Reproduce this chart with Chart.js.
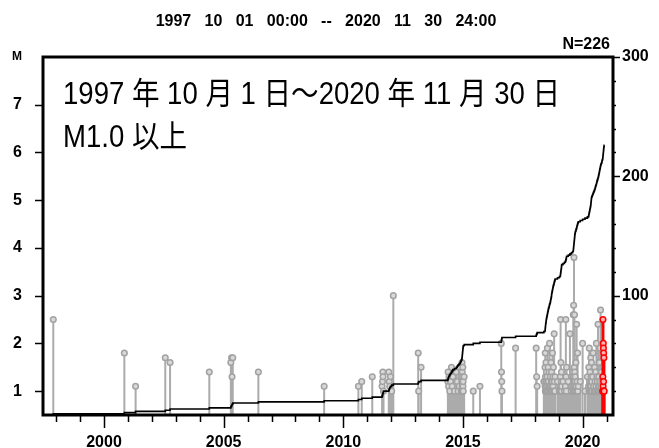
<!DOCTYPE html>
<html><head><meta charset="utf-8">
<script src="https://cdn.jsdelivr.net/npm/chart.js@4/dist/chart.umd.min.js"></script>
<style>html,body{margin:0;padding:0;background:#fff;overflow:hidden}#wrap{width:659px;height:448px;position:relative}</style>
</head><body><div id="wrap"><canvas id="c" width="659" height="448"></canvas></div>
<script>
// ---- texts ----
const titleText = '1997   10   01   00:00   --   2020   11   30   24:00';
const countLabel = 'N=226';
const magAxisLabel = 'M';
const noteLines = ['1997 年 10 月 1 日～2020 年 11 月 30 日', 'M1.0 以上'];
// ---- axes ----
const xRange = [1997.45, 2021.27];
const xTickYears = [1998,1999,2000,2001,2002,2003,2004,2005,2006,2007,2008,2009,2010,2011,2012,2013,2014,2015,2016,2017,2018,2019,2020,2021];
const xLabelYears = [2000,2005,2010,2015,2020];
const magRange = [0.5, 8];
const magTicks = [1,2,3,4,5,6,7];
const countRange = [0, 300];
const countTicks = [20,40,60,80,100,120,140,160,180,200,220,240,260,280,300];
const countLabels = [100,200,300];
const redStart = 2020.833; // events of the last month drawn in red
// ---- events (decimal year, magnitude) ----
const eventTimes = [
 1997.88,2000.85,2001.32,2002.56,2002.76,2004.40,2005.30,2005.33,2005.35,2005.38,2006.45,2009.20,2010.63,2010.77,2011.21,
 2011.62,2011.64,2011.65,2011.66,2011.68,2011.90,2011.92,2011.94,2011.97,2012.02,2012.09,
 2013.13,2013.15,2013.25,
 2014.37,2014.38,2014.40,2014.42,2014.45,2014.48,2014.52,2014.55,2014.58,2014.65,2014.72,2014.76,2014.80,2014.84,2014.88,
 2014.91,2014.93,2014.95,2014.96,2014.965,2014.97,2014.975,2014.98,2014.985,2014.99,2014.995,2015.00,2015.005,2015.01,2015.05,
 2015.43,2015.71,2016.60,2016.61,2016.62,2016.63,2017.20,2018.06,2018.08,2018.10,
 2018.38,
 2018.43,2018.435,2018.44,2018.445,2018.45,2018.455,2018.46,2018.47,2018.475,2018.48,2018.49,2018.50,
 2018.51,2018.52,2018.53,2018.54,2018.55,2018.56,2018.57,2018.58,2018.60,2018.61,2018.62,2018.64,
 2018.65,2018.66,2018.67,2018.68,2018.69,2018.70,2018.705,2018.71,
 2018.72,2018.73,2018.74,2018.75,2018.76,2018.77,2018.78,2018.80,2018.81,2018.82,2018.84,2018.85,
 2018.95,2019.03,
 2019.07,2019.075,2019.08,2019.09,2019.095,2019.10,2019.11,2019.115,2019.12,2019.125,
 2019.18,2019.24,
 2019.28,2019.30,2019.31,2019.32,2019.33,
 2019.40,2019.47,2019.53,2019.58,
 2019.61,2019.615,2019.62,2019.625,2019.63,2019.635,2019.64,2019.645,2019.65,2019.655,2019.66,2019.665,2019.67,2019.675,2019.68,
 2019.69,2019.70,2019.72,2019.73,2019.75,2019.76,2019.77,2019.79,2019.80,2019.82,
 2019.90,2020.00,2020.10,2020.20,
 2020.25,2020.26,2020.27,2020.28,2020.29,2020.30,2020.31,2020.32,2020.33,2020.34,2020.345,2020.35,2020.355,2020.36,2020.365,2020.37,2020.38,
 2020.40,2020.42,2020.44,2020.46,2020.48,2020.50,2020.52,
 2020.53,2020.545,2020.56,2020.575,2020.59,2020.60,2020.615,2020.63,2020.645,2020.66,
 2020.67,2020.68,2020.69,2020.70,2020.71,2020.72,2020.73,2020.74,2020.75,2020.76,2020.78,2020.80,
 2020.81,2020.82,
 2020.84,2020.845,2020.85,2020.855,2020.86,2020.865,2020.87,2020.875,2020.88,2020.885,2020.89,2020.90
];
const eventMags = [
 2.5,1.8,1.1,1.7,1.6,1.4,1.6,1.7,1.3,1.7,1.4,1.1,1.1,1.2,1.3,
 1.1,1.2,1.4,1.3,1.0,1.4,1.2,1.1,1.3,1.0,3.0,
 1.8,1.0,1.5,
 1.2,1.4,1.1,1.3,1.0,1.2,1.5,1.1,1.3,1.0,1.4,1.2,1.0,1.1,1.5,
 1.3,1.0,1.2,1.6,1.1,1.4,1.0,1.2,1.3,1.0,1.5,1.1,1.2,1.0,1.3,
 1.0,1.1,2.0,1.4,1.2,1.0,1.9,1.9,1.3,1.1,
 1.2,
 1.5,1.1,1.8,1.0,1.3,1.2,1.0,1.6,1.1,1.0,1.4,1.2,
 1.0,1.3,1.9,1.1,1.0,1.5,1.2,1.0,1.4,1.1,2.0,1.0,
 1.3,1.1,1.0,1.6,1.2,1.0,1.4,1.1,
 1.0,1.2,1.8,1.0,1.3,1.1,1.5,1.0,2.2,1.2,1.0,1.3,
 1.2,1.0,
 1.3,1.0,2.5,1.1,1.6,1.0,1.2,1.4,1.0,1.1,
 1.2,1.0,
 1.1,2.5,1.3,1.0,1.5,
 1.2,2.2,1.0,1.4,
 2.6,1.0,1.3,2.8,1.1,1.0,3.8,1.2,1.5,1.0,2.6,1.1,1.4,1.0,1.2,
 1.3,1.0,1.6,1.1,2.4,1.0,1.2,1.8,1.0,1.1,
 1.2,2.0,1.0,1.3,
 1.1,1.5,1.0,1.9,1.2,1.0,1.4,1.1,1.0,1.7,1.2,1.0,1.3,1.1,1.0,1.6,1.2,
 1.0,1.3,1.8,1.1,1.0,1.5,1.2,
 1.0,1.4,1.1,2.0,1.0,1.3,1.2,1.0,2.4,1.1,
 1.0,1.3,1.1,1.6,1.0,1.2,1.9,1.0,2.7,1.1,1.4,1.0,
 1.2,1.0,
 1.0,1.3,2.5,1.1,1.0,2.0,1.9,1.2,1.8,1.0,1.7,1.0
];
const cumStart = 1997.75, cumEnd = 2020.917;

// ---- build datasets through the library ----
const stemGray = [], stemRed = [], dotGray = [], dotRed = [], cum = [{x: cumStart, y: 0}];
eventTimes.forEach((t, i) => {
  const m = eventMags[i];
  const red = t >= redStart;
  const stems = red ? stemRed : stemGray;
  stems.push({x: t, y: magRange[0]}, {x: t, y: m}, {x: t, y: null});
  (red ? dotRed : dotGray).push({x: t, y: m});
  cum.push({x: t, y: i + 1});
});
cum.push({x: cumEnd, y: eventTimes.length});

const FONT = '"Liberation Sans", "DejaVu Sans", Arial, sans-serif';
const CJK = '"Liberation Sans", "Noto Sans CJK JP", sans-serif';
const tickFont = {family: FONT, size: 16, weight: 'bold'};

const framePlugin = {
  id: 'frame',
  afterDraw(chart) {
    const ctx = chart.ctx, a = chart.chartArea;
    const xs = chart.scales.x, ys = chart.scales.y, yr = chart.scales.yR;
    ctx.save();
    ctx.strokeStyle = '#000';
    ctx.lineWidth = 1.5;
    ctx.beginPath();
    magTicks.forEach(v => { const y = Math.round(ys.getPixelForValue(v)) + 0.5; ctx.moveTo(a.left - 8, y); ctx.lineTo(a.left, y); });
    xTickYears.forEach(v => { const x = Math.round(xs.getPixelForValue(v)) + 0.5; ctx.moveTo(x, a.bottom); ctx.lineTo(x, a.bottom + (v % 5 === 0 ? 13 : 7)); });
    countTicks.forEach(v => { const y = Math.round(yr.getPixelForValue(v)) + 0.5; ctx.moveTo(a.right, y); ctx.lineTo(a.right + (v % 100 === 0 ? 7 : 3), y); });
    ctx.stroke();
    ctx.lineWidth = 3;
    ctx.strokeRect(a.left, a.top, a.right - a.left, a.bottom - a.top);
    ctx.fillStyle = '#000';
    ctx.textBaseline = 'middle';
    ctx.font = 'bold 16px ' + FONT;
    ctx.textAlign = 'center';
    ctx.fillText(titleText, 326, 22);
    ctx.textAlign = 'right';
    ctx.fillText(countLabel, a.right - 3, 45);
    ctx.font = 'bold 12px ' + FONT;
    ctx.textAlign = 'center';
    ctx.fillText(magAxisLabel, 17, 57);
    // note: fitted to the width it has in the reference
    ctx.font = '31px ' + CJK;
    ctx.textAlign = 'left';
    ctx.textBaseline = 'alphabetic';
    const w = ctx.measureText(noteLines[0]).width;
    const sx = 497 / w;
    ctx.translate(63, 0);
    ctx.scale(sx, 1);
    ctx.fillText(noteLines[0], 0, 104);
    ctx.fillText(noteLines[1], 0, 147);
    ctx.restore();
  }
};

new Chart(document.getElementById('c'), {
  type: 'line',
  data: {
    datasets: [
      {label: 'cum', data: cum, yAxisID: 'yR', stepped: true, borderColor: '#000', borderWidth: 1.6, pointRadius: 0, fill: false, order: 0},
      {label: 'redDots', data: dotRed, yAxisID: 'y', showLine: false, pointRadius: 2.8, pointBorderWidth: 1.5, pointBorderColor: '#ff0000', pointBackgroundColor: '#ffb0b0', order: 1},
      {label: 'redStems', data: stemRed, yAxisID: 'y', borderColor: '#ff0000', borderWidth: 3, pointRadius: 0, spanGaps: false, order: 2},
      {label: 'grayDots', data: dotGray, yAxisID: 'y', showLine: false, pointRadius: 2.8, pointBorderWidth: 1.5, pointBorderColor: '#a2a2a2', pointBackgroundColor: '#d8d8d8', order: 3},
      {label: 'grayStems', data: stemGray, yAxisID: 'y', borderColor: '#ababab', borderWidth: 2, pointRadius: 0, spanGaps: false, order: 4}
    ]
  },
  options: {
    responsive: false, animation: false, devicePixelRatio: 1,
    layout: {padding: {top: 57, left: 0, right: 0, bottom: 0}},
    plugins: {legend: {display: false}, tooltip: {enabled: false}, title: {display: false}},
    scales: {
      x: {type: 'linear', min: xRange[0], max: xRange[1],
          grid: {display: false, drawTicks: false}, border: {display: false},
          afterBuildTicks: s => { s.ticks = xTickYears.map(v => ({value: v})); },
          afterFit: s => { s.height = 33; },
          ticks: {autoSkip: false, maxRotation: 0, padding: 18, font: tickFont, color: '#000',
                  callback: v => xLabelYears.includes(v) ? String(v) : ''}},
      y: {type: 'linear', position: 'left', min: magRange[0], max: magRange[1],
          grid: {display: false, drawTicks: false}, border: {display: false},
          afterBuildTicks: s => { s.ticks = magTicks.map(v => ({value: v})); },
          afterFit: s => { s.width = 43; },
          ticks: {autoSkip: false, padding: 21, font: tickFont, color: '#000', callback: v => String(v)}},
      yR: {type: 'linear', position: 'right', min: countRange[0], max: countRange[1],
          grid: {display: false, drawTicks: false}, border: {display: false},
          afterBuildTicks: s => { s.ticks = countTicks.map(v => ({value: v})); },
          afterFit: s => { s.width = 46; },
          ticks: {autoSkip: false, padding: 9, font: tickFont, color: '#000',
                  callback: v => countLabels.includes(v) ? String(v) : ''}}
    }
  },
  plugins: [framePlugin]
});
</script></body></html>
